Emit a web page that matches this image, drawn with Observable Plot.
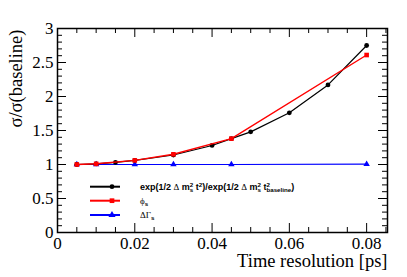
<!DOCTYPE html>
<html>
<head>
<meta charset="utf-8">
<script src="https://cdn.jsdelivr.net/npm/d3@7"></script>
<script src="https://cdn.jsdelivr.net/npm/@observablehq/plot@0.6"></script>
</head>
<body style="margin:0;background:#fff">
<div id="chart"></div>
<script>
// ---- data ----
const blackX = [0.005, 0.01, 0.015, 0.02, 0.03, 0.04, 0.045, 0.05, 0.06, 0.07, 0.08];
const blackY = [1.0, 1.01, 1.03, 1.06, 1.14, 1.28, 1.38, 1.48, 1.76, 2.17, 2.75];
const redX = [0.005, 0.01, 0.02, 0.03, 0.045, 0.08];
const redY = [1.0, 1.01, 1.06, 1.15, 1.38, 2.61];
const blueX = [0.005, 0.01, 0.02, 0.03, 0.045, 0.08];
const blueY = [1.0, 1.0, 1.0, 1.0, 1.0, 1.005];
const xTicks = [0, 0.02, 0.04, 0.06, 0.08];
const xTickLabels = ["0", "0.02", "0.04", "0.06", "0.08"];
const yTicks = [0, 0.5, 1, 1.5, 2, 2.5, 3];
const yTickLabels = ["0", "0.5", "1", "1.5", "2", "2.5", "3"];
const xTitle = "Time resolution [ps]";
const yTitle = "σ/σ(baseline)";

const toRows = (xs, ys) => xs.map((x, i) => ({x, y: ys[i]}));
const black = toRows(blackX, blackY);
const red = toRows(redX, redY);
const blue = toRows(blueX, blueY);

const W = 407, H = 277, mL = 57, mR = 20, mT = 28, mB = 45;
const pw = W - mL - mR, ph = H - mT - mB;
const xMinor = d3.range(0, 0.0851, 0.005).filter(v => !xTicks.some(t => Math.abs(t - v) < 1e-9));
const yMinor = d3.range(0, 3.001, 0.1).filter(v => !yTicks.some(t => Math.abs(t - v) < 1e-9));
const SERIF = "Liberation Serif";
const SANS = "Liberation Sans";

const chart = Plot.plot({
  width: W, height: H,
  marginLeft: mL, marginRight: mR, marginTop: mT, marginBottom: mB,
  x: {domain: [0, 0.0854]},
  y: {domain: [0, 3]},
  marks: [
    // inner ticks
    Plot.ruleX(xTicks, {x: d => d, insetTop: ph - 9, stroke: "#000", strokeWidth: 1}),
    Plot.ruleX(xMinor, {x: d => d, insetTop: ph - 5, stroke: "#000", strokeWidth: 1}),
    Plot.ruleX(xTicks, {x: d => d, insetBottom: ph - 9, stroke: "#000", strokeWidth: 1}),
    Plot.ruleX(xMinor, {x: d => d, insetBottom: ph - 5, stroke: "#000", strokeWidth: 1}),
    Plot.ruleY(yTicks, {y: d => d, insetRight: pw - 9, stroke: "#000", strokeWidth: 1}),
    Plot.ruleY(yMinor, {y: d => d, insetRight: pw - 5, stroke: "#000", strokeWidth: 1}),
    Plot.ruleY(yTicks, {y: d => d, insetLeft: pw - 9, stroke: "#000", strokeWidth: 1}),
    Plot.ruleY(yMinor, {y: d => d, insetLeft: pw - 5, stroke: "#000", strokeWidth: 1}),
    Plot.axisX(xTicks, {tickSize: 0, tickPadding: 4, fontSize: 17, fontFamily: SERIF, label: null, fill: "#000",
      tickFormat: d => xTickLabels[xTicks.indexOf(d)]}),
    Plot.axisY(yTicks, {tickSize: 0, tickPadding: 4, fontSize: 17, fontFamily: SERIF, label: null, fill: "#000",
      tickFormat: d => yTickLabels[yTicks.indexOf(d)]}),
    Plot.frame({stroke: "#000", strokeWidth: 1.5}),
    // series
    Plot.line(blue, {x: "x", y: "y", stroke: "#0000ff", strokeWidth: 1.2}),
    Plot.dot(blue, {x: "x", y: "y", symbol: "triangle", r: 2.4, fill: "#0000ff", stroke: "none"}),
    Plot.line(black, {x: "x", y: "y", stroke: "#000", strokeWidth: 1.2}),
    Plot.dot(black, {x: "x", y: "y", symbol: "circle", r: 2.4, fill: "#000", stroke: "none"}),
    Plot.line(red, {x: "x", y: "y", stroke: "#ff0000", strokeWidth: 1.4}),
    Plot.dot(red, {x: "x", y: "y", symbol: "square", r: 2.6, fill: "#ff0000", stroke: "none"}),
    // titles
    Plot.text([xTitle], {frameAnchor: "bottom-right", dy: 34, lineAnchor: "bottom", textAnchor: "end",
      fontSize: 18.5, fontFamily: SERIF, fill: "#000"}),
    Plot.text([yTitle], {frameAnchor: "top-left", dx: -36, dy: 1, rotate: -90, lineAnchor: "bottom",
      textAnchor: "end", fontSize: 18.5, fontFamily: SERIF, fill: "#000"})
  ]
});
document.getElementById("chart").appendChild(chart);
const svg = d3.select(chart);

// ---- legend (inside the frame) ----
const lg = svg.append("g").attr("text-anchor", "start");
const rows = [
  {color: "#000", sym: "circle", y: 186.7},
  {color: "#ff0000", sym: "square", y: 200.7},
  {color: "#0000ff", sym: "triangle", y: 215}
];
rows.forEach(r => {
  lg.append("line").attr("x1", 90).attr("x2", 120).attr("y1", r.y).attr("y2", r.y)
    .attr("stroke", r.color).attr("stroke-width", 2);
  const s = d3.symbol().type(r.sym === "circle" ? d3.symbolCircle : r.sym === "square" ? d3.symbolSquare : d3.symbolTriangle)
    .size(r.sym === "circle" ? 18 : 22);
  lg.append("path").attr("d", s()).attr("transform", `translate(112,${r.y})`).attr("fill", r.color);
});
const SUB = 6.2;
function sans(t) { return t.append("tspan").attr("font-family", SANS).attr("font-weight", "bold"); }
function ser(t) { return t.append("tspan").attr("font-family", SERIF).attr("font-weight", "normal"); }
function addMs(t) {
  sans(t).text(" ");
  ser(t).text("Δ");
  sans(t).text(" m");
  sans(t).attr("font-size", SUB).attr("dy", 2.2).text("s");
  sans(t).attr("font-size", SUB).attr("dx", -3.5).attr("dy", -5.6).text("2");
  sans(t).attr("dy", 3.4).text(" t");
}
const t1 = lg.append("text").attr("x", 140).attr("y", rows[0].y + 3.2).attr("font-family", SANS)
  .attr("font-size", 9).attr("fill", "#000").attr("text-anchor", "start").style("white-space", "pre");
sans(t1).text("exp(1/2");
addMs(t1);
sans(t1).attr("font-size", SUB).attr("dy", -3.4).text("2");
sans(t1).attr("dy", 3.4).text(")/exp(1/2");
addMs(t1);
sans(t1).attr("font-size", SUB).attr("dy", -3.4).text("2");
sans(t1).attr("font-size", SUB).attr("dx", -3.5).attr("dy", 5.6).text("baseline");
sans(t1).attr("dy", -2.2).text(")");
// row 2
const t2 = lg.append("text").attr("x", 140).attr("y", rows[1].y + 3).attr("font-size", 9)
  .attr("font-family", SERIF).attr("fill", "#000").attr("text-anchor", "start");
ser(t2).text("ϕ");
sans(t2).attr("font-size", SUB).attr("dy", 2.2).text("s");
// row 3
const t3 = lg.append("text").attr("x", 140).attr("y", rows[2].y + 3).attr("font-size", 9)
  .attr("font-family", SERIF).attr("fill", "#000").attr("text-anchor", "start");
ser(t3).text("ΔΓ");
sans(t3).attr("font-size", SUB).attr("dy", 2.2).text("s");
</script>
</body>
</html>
